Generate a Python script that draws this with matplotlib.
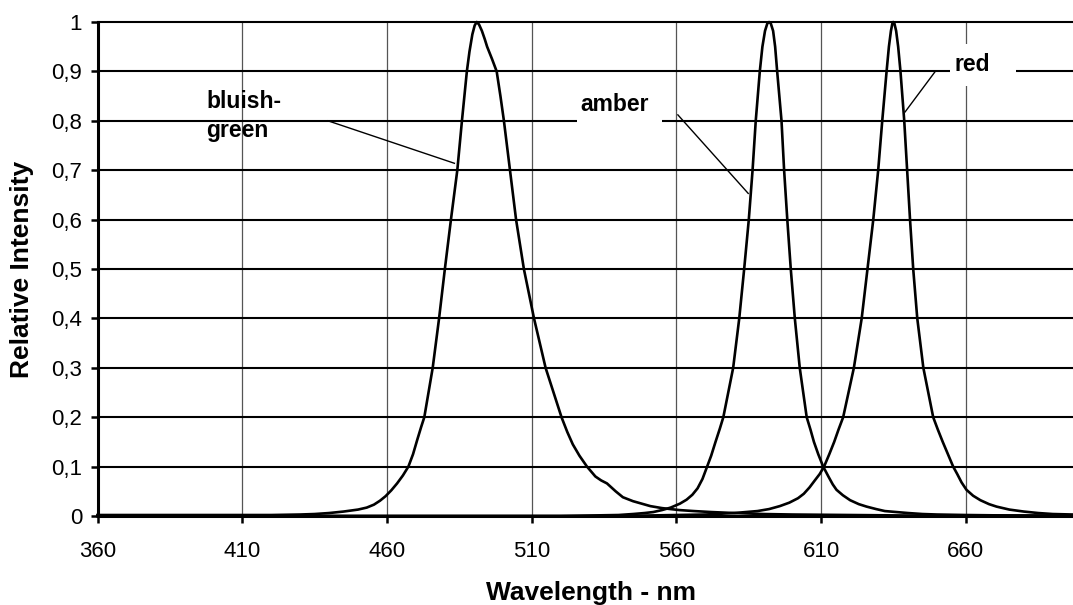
import numpy as np
import matplotlib
matplotlib.use('Agg')
import matplotlib.pyplot as plt
from matplotlib.patches import Rectangle
from matplotlib.ticker import MultipleLocator, FuncFormatter

plt.rcParams['font.family'] = ['Liberation Sans', 'DejaVu Sans']

# spectra (nm, relative intensity)
green_nm = [360, 380, 400, 420, 430, 435, 440, 445, 450, 453, 455.5, 457.6, 459.5, 461.5,
            463.5, 465.5, 467.4, 469, 470.5, 471.8, 472.9, 475.8, 478.0, 480.0, 482.1,
            484.3, 485.9, 487.6, 488.5, 489.5, 490.3, 491, 491.8, 492.8, 493.8, 494.6,
            496.3, 497.9, 499.2, 500.4, 502.5, 504.6, 507.3, 510.8, 514.8, 520.3, 522.3,
            524.2, 526.5, 529.1, 532, 534, 536, 539, 541.5, 545, 548, 551, 555, 561, 566,
            572, 580, 590, 600, 620, 640, 660, 697]
green_val = [.002, .002, .002, .002, .003, .004, .006, .009, .013, .017, .023, .031, .04, .052,
             .066, .082, .1, .125, .155, .18, .2, .3, .4, .5, .6,
             .7, .8, .9, .94, .975, .993, 1.0, .995, .982, .965, .95,
             .925, .9, .85, .8, .7, .6, .5, .4, .3, .2, .17,
             .145, .122, .1, .08, .072, .066, .05, .038, .03, .025, .02, .016, .012, .01,
             .008, .006, .004, .003, .002, .001, .001, .001]

amber_nm = [360, 520, 540, 545, 549, 552, 555, 558, 561.2, 563.5, 565.5, 567.3, 569, 570.6,
            572, 573.5, 575, 576.2, 579.6, 581.7, 583.4, 585.0, 586.3, 587.4, 588.8, 589.7,
            590.6, 591.4, 592, 592.6, 593.4, 594.1, 594.8, 596.3, 597.2, 598.3, 599.5, 600.9,
            602.6, 605, 606.3, 607.5, 609, 610.7, 612.5, 614, 615.3, 617.5, 620, 623, 625.7,
            629, 632, 636, 640, 645, 650, 660, 675, 697]
amber_val = [0, 0, .002, .004, .006, .008, .012, .017, .025, .033, .043, .056, .075, .1,
             .122, .15, .177, .2, .3, .4, .5, .6, .7, .8, .9, .95,
             .982, .997, 1.0, .997, .982, .95, .9, .8, .7, .6, .5, .4,
             .3, .2, .175, .15, .125, .1, .08, .064, .053, .042, .032, .024, .019,
             .014, .01, .008, .006, .004, .003, .002, .001, 0]

red_nm = [360, 540, 570, 580, 588, 592, 595.7, 599, 602, 604, 606, 607.8, 609.5, 611, 612.8,
          614.5, 616, 617.6, 621.3, 624.0, 626.0, 628.0, 629.7, 631.1, 632.6, 633.4, 634.1,
          634.6, 634.9, 635.3, 635.9, 636.6, 637.4, 638.7, 639.7, 640.7, 641.8, 643.2, 645.3,
          648.7, 650.3, 652, 653.8, 655.6, 657, 658.5, 660.2, 662.5, 665, 668, 670.6, 675,
          680, 685, 690, 697]
red_val = [0, 0, .003, .006, .01, .014, .02, .027, .036, .045, .058, .072, .085, .1, .125,
           .15, .175, .2, .3, .4, .5, .6, .7, .8, .9, .95, .982,
           .997, 1.0, .997, .982, .95, .9, .8, .7, .6, .5, .4, .3,
           .2, .175, .15, .125, .1, .085, .068, .053, .041, .032, .024, .019, .013,
           .009, .006, .004, .003]

x_ticks = [360, 410, 460, 510, 560, 610, 660]

fig = plt.figure(figsize=(10.73, 6.05), dpi=100)
ax = fig.add_axes([97.5/1073, 1 - 516/605, 1 - 97.5/1073, (516 - 22)/605])

ax.set_xlim(360, 697)
ax.set_ylim(0, 1)

ax.set_xticks(x_ticks)
ax.yaxis.set_major_locator(MultipleLocator(0.1))
ax.yaxis.set_major_formatter(FuncFormatter(lambda v, p: ('%g' % round(v, 1)).replace('.', ',')))

# grid by hand: thick black horizontals, thin grey verticals
for v in np.arange(0.1, 1.01, 0.1):
    ax.axhline(v, color='black', lw=1.5, zorder=0.5, clip_on=False)
for t in x_ticks[1:]:
    ax.axvline(t, color='#555555', lw=0.9, zorder=0.4)

for s in ['top', 'right']:
    ax.spines[s].set_visible(False)
ax.spines['left'].set_linewidth(2.2)
ax.spines['bottom'].set_linewidth(2.2)
ax.tick_params(axis='both', length=5, width=1.8, labelsize=16)
ax.tick_params(axis='y', pad=6)
ax.tick_params(axis='x', pad=13)

# white boxes behind the amber / red labels
ax.add_patch(Rectangle((525.6, 0.791), 29.4, 0.081, facecolor='white', edgecolor='none', zorder=1))
ax.add_patch(Rectangle((654.5, 0.870), 22.8, 0.085, facecolor='white', edgecolor='none', zorder=1))

for nm, val in [(green_nm, green_val), (amber_nm, amber_val), (red_nm, red_val)]:
    ax.plot(nm, val, color='black', lw=1.9, zorder=3, clip_on=False,
            solid_joinstyle='round')

# leader lines
ax.plot([439.6, 483.3], [0.80, 0.714], color='black', lw=1.0, zorder=2)
ax.plot([560.5, 584.8], [0.812, 0.653], color='black', lw=1.0, zorder=2)
ax.plot([649.3, 639.0], [0.899, 0.818], color='black', lw=1.0, zorder=2)

ax.text(397.5, 0.81, 'bluish-\ngreen', fontsize=16.5, fontweight='bold', ha='left', va='center',
        linespacing=1.3, zorder=4)
ax.text(538.8, 0.832, 'amber', fontsize=16.5, fontweight='bold', ha='center', va='center', zorder=4)
ax.text(662.1, 0.914, 'red', fontsize=16.5, fontweight='bold', ha='center', va='center', zorder=4)

fig.text(591/1073, 1 - 593/605, 'Wavelength - nm', fontsize=19, fontweight='bold',
         ha='center', va='center')
fig.text(22/1073, 1 - 269/605, 'Relative Intensity', fontsize=19, fontweight='bold',
         ha='center', va='center', rotation=90)

fig.savefig('out.png', dpi=100)
